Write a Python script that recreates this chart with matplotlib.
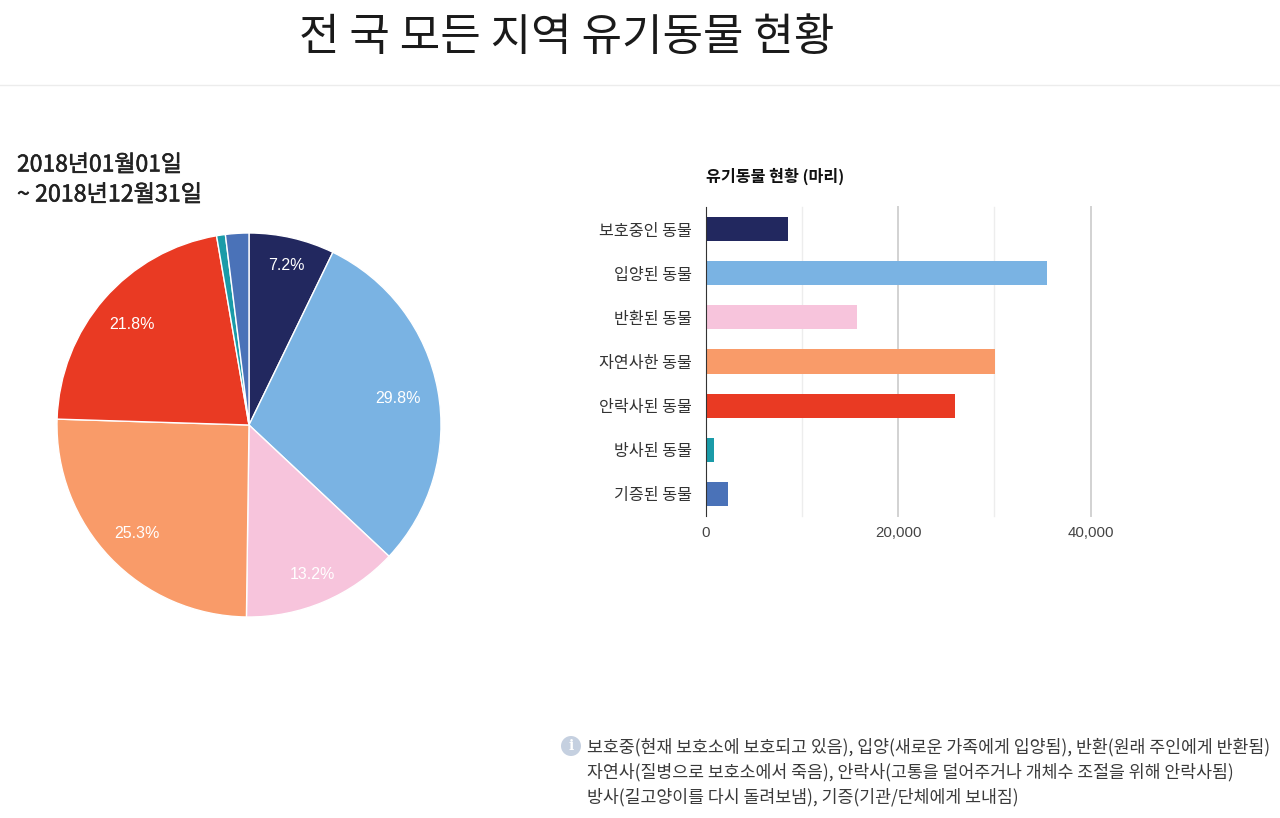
import matplotlib
matplotlib.use('Agg')
import matplotlib.pyplot as plt
import matplotlib.patheffects as pe
import numpy as np
from matplotlib.patches import Circle

plt.rcParams['font.family'] = ['Noto Sans CJK KR', 'DejaVu Sans']

W, H = 1280, 818

categories = ['보호중인 동물', '입양된 동물', '반환된 동물', '자연사한 동물', '안락사된 동물', '방사된 동물', '기증된 동물']
counts = [8570, 35480, 15750, 30100, 25970, 880, 2340]
colors = ['#22285f', '#7ab3e3', '#f7c4dc', '#f99b69', '#e93a23', '#1a9ba8', '#4a72b8']
x_ticks = [0, 10000, 20000, 30000, 40000]
x_tick_labels = ['0', '', '20,000', '', '40,000']
note_lines = [
    '보호중(현재 보호소에 보호되고 있음), 입양(새로운 가족에게 입양됨), 반환(원래 주인에게 반환됨)',
    '자연사(질병으로 보호소에서 죽음), 안락사(고통을 덜어주거나 개체수 조절을 위해 안락사됨)',
    '방사(길고양이를 다시 돌려보냄), 기증(기관/단체에게 보내짐)',
]


def px_axes(fig, left, top, right, bottom):
    return fig.add_axes([left / W, 1 - bottom / H, (right - left) / W, (bottom - top) / H])


fig = plt.figure(figsize=(12.8, 8.18), dpi=100, facecolor='white')

# overlay in pixel coordinates for header, date and note
over = fig.add_axes([0, 0, 1, 1])
over.set_xlim(0, W)
over.set_ylim(H, 0)
over.axis('off')
over.text(567, 37, '전 국 모든 지역 유기동물 현황', fontsize=31.7, color='#1a1a1a', ha='center', va='center')
over.plot([0, W], [85, 85], color='#ececec', lw=1)
for y, label, size in [(165, '2018년01월01일', 16.5), (195, '~ 2018년12월31일', 16.7)]:
    t = over.text(17, y, label, fontsize=size, color='#222222', va='center')
    t.set_path_effects([pe.withStroke(linewidth=0.4, foreground='#222222')])
over.add_patch(Circle((571, 746), 10, color='#c5d0e0', lw=0))
over.text(571, 746, 'i', fontsize=10, color='white', ha='center', va='center', fontweight='bold', family='DejaVu Serif')
for i, line in enumerate(note_lines):
    over.text(587, 747 + i * 25, line, fontsize=12.45, color='#3a3a3a', va='center')

# pie
ax_pie = px_axes(fig, 57, 233, 441, 617)
wedges, texts, autotexts = ax_pie.pie(
    counts, colors=colors, startangle=90, counterclock=False, radius=1,
    autopct=lambda p: f'{p:.1f}%' if p > 5 else '', pctdistance=0.8,
    wedgeprops={'edgecolor': 'white', 'linewidth': 1},
    textprops={'color': 'white', 'fontsize': 11.5, 'family': 'Liberation Sans'},
)
ax_pie.set_xlim(-1, 1)
ax_pie.set_ylim(-1, 1)

# label distance differs per slice in the original
label_dist = [0.86, 0.79, 0.84, 0.805, 0.805, 0.8, 0.8]
for w, lab, r in zip(wedges, autotexts, label_dist):
    ang = np.deg2rad((w.theta1 + w.theta2) / 2)
    lab.set_position((r * np.cos(ang), r * np.sin(ang) - 0.006))

# bars
ax_bar = px_axes(fig, 705.5, 207, 1090.5, 516)
pos = list(range(len(categories)))
ax_bar.barh(pos, counts, height=0.55, color=colors, zorder=3)
ax_bar.set_xlim(0, 40000)
ax_bar.set_ylim(len(categories) - 0.5, -0.5)
ax_bar.set_yticks(pos, categories)
ax_bar.set_xticks(x_ticks, x_tick_labels)
for t in x_ticks[1:]:
    major = t % 20000 == 0
    ax_bar.axvline(t, color='#d2d2d2' if major else '#ededed', lw=1.4 if major else 1, zorder=1, clip_on=False)
for side in ['top', 'right', 'bottom']:
    ax_bar.spines[side].set_visible(False)
ax_bar.spines['left'].set_color('#333333')
ax_bar.spines['left'].set_zorder(5)
ax_bar.tick_params(axis='y', length=0, pad=10, labelsize=11.6, labelcolor='#333333')
ax_bar.tick_params(axis='x', length=0, pad=7, labelsize=10.8, labelcolor='#444444')
for lab in ax_bar.get_xticklabels():
    lab.set_family('Liberation Sans')

over.text(705.5, 176, '유기동물 현황 (마리)', fontsize=11.6, color='#111111', va='center', fontweight='bold')

fig.savefig('out.png', dpi=100)
plt.close(fig)
